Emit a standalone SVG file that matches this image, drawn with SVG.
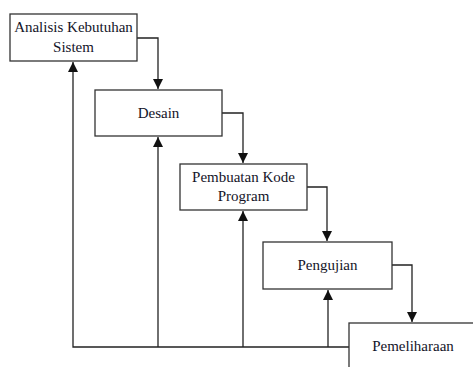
<svg xmlns="http://www.w3.org/2000/svg" width="473" height="367" viewBox="0 0 473 367">
<style>
.box{fill:#fff;stroke:#333;stroke-width:1.3}
.lbl{font-family:"Liberation Serif","Times New Roman",serif;font-size:15px;fill:#141428;text-anchor:middle}
.c{fill:none;stroke:#222;stroke-width:1.3}
</style>
<defs>
<marker id="ah" viewBox="0 0 10 10" refX="10" refY="5" markerWidth="10" markerHeight="10" markerUnits="userSpaceOnUse" orient="auto">
<path d="M0,0 L10,5 L0,10 Z" fill="#111"/>
</marker>
</defs>
<rect width="473" height="367" fill="#fff"/>
<g id="connectors">
<path class="c" d="M137,38 H158 V89" marker-end="url(#ah)"/>
<path class="c" d="M222,113 H243 V163" marker-end="url(#ah)"/>
<path class="c" d="M307,187 H327 V241" marker-end="url(#ah)"/>
<path class="c" d="M392,265 H412 V322" marker-end="url(#ah)"/>
<path class="c" d="M349,347 H73 V62" marker-end="url(#ah)"/>
<path class="c" d="M158,347 V137" marker-end="url(#ah)"/>
<path class="c" d="M243,347 V211" marker-end="url(#ah)"/>
<path class="c" d="M328,347 V290" marker-end="url(#ah)"/>
</g>
<g id="analisis">
<rect class="box" x="10" y="14" width="127" height="47"/>
<text class="lbl" x="73.5" y="32">Analisis Kebutuhan</text>
<text class="lbl" x="73.5" y="52">Sistem</text>
</g>
<g id="desain">
<rect class="box" x="95" y="90" width="127" height="46"/>
<text class="lbl" x="158.5" y="118">Desain</text>
</g>
<g id="pembuatan">
<rect class="box" x="180" y="164" width="127" height="46"/>
<text class="lbl" x="243.5" y="182">Pembuatan Kode</text>
<text class="lbl" x="243.5" y="201">Program</text>
</g>
<g id="pengujian">
<rect class="box" x="263" y="242" width="129" height="47"/>
<text class="lbl" x="327.5" y="270">Pengujian</text>
</g>
<g id="pemeliharaan">
<rect class="box" x="349" y="323" width="140" height="60"/>
<text class="lbl" x="413" y="351">Pemeliharaan</text>
</g>
</svg>
